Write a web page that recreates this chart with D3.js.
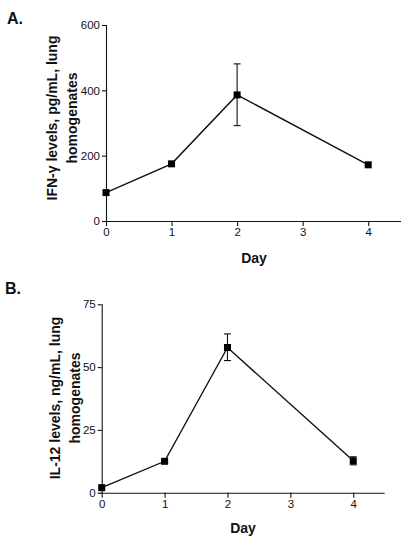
<!DOCTYPE html>
<html><head><meta charset="utf-8">
<script src="https://cdn.jsdelivr.net/npm/d3@7"></script>
<style>body{margin:0;background:#fff}svg{display:block}text{font-family:"Liberation Sans",Arial,Helvetica,sans-serif}</style>
</head><body>
<svg id="c" width="405" height="541"></svg>
<script>
const days = [0, 1, 2, 4];
const xTicks = [0, 1, 2, 3, 4];
// Panel A: IFN-γ (pg/mL)
const ifnMean = [87, 175, 386, 172];
const ifnErrHigh = [87, 175, 481, 172];
const ifnErrLow = [87, 175, 292, 172];
const ifnTicks = [0, 200, 400, 600];
// Panel B: IL-12 (ng/mL)
const il12Mean = [2, 12.5, 57.8, 12.7];
const il12ErrHigh = [2, 13, 63.2, 14.3];
const il12ErrLow = [2, 12, 52.6, 11.1];
const il12Ticks = [0, 25, 50, 75];

const svg = d3.select("#c");

function panel(cfg) {
  const x = d3.scaleLinear().domain([0, 4.5]).range([cfg.x0, cfg.x1]);
  const y = d3.scaleLinear().domain([0, cfg.ymax]).range([cfg.y0, cfg.y1]);
  const g = svg.append("g");

  const xa = g.append("g").attr("transform", `translate(0,${cfg.y0})`)
    .call(d3.axisBottom(x).tickValues(xTicks).tickFormat(d3.format("d")).tickSizeInner(5).tickSizeOuter(0).tickPadding(2));
  const ya = g.append("g").attr("transform", `translate(${cfg.x0},0)`)
    .call(d3.axisLeft(y).tickValues(cfg.ticks).tickSizeInner(4).tickSizeOuter(0).tickPadding(2));
  [xa, ya].forEach(a => {
    a.selectAll("path,line").attr("stroke", "#111").attr("stroke-width", 1.1);
    a.selectAll("text").attr("fill", "#111").style("font-size", "11.5px");
  });
  ya.select(".domain").attr("d", `M0.5,${cfg.y0}V${cfg.y1}`);
  xa.select(".domain").attr("d", `M${cfg.x0 - 2},0.5H${cfg.x1}`);

  const pts = days.map((d, i) => ({d, m: cfg.mean[i], hi: cfg.hi[i], lo: cfg.lo[i]}));

  pts.filter(p => p.hi - p.lo > 0).forEach(p => {
    const cx = x(p.d);
    g.append("line").attr("x1", cx).attr("x2", cx).attr("y1", y(p.hi)).attr("y2", y(p.lo)).attr("stroke", "#111").attr("stroke-width", 1.1);
    [p.hi, p.lo].forEach(v => g.append("line").attr("x1", cx - 3.5).attr("x2", cx + 3.5).attr("y1", y(v)).attr("y2", y(v)).attr("stroke", "#111").attr("stroke-width", 1.1));
  });

  g.append("path").datum(pts)
    .attr("d", d3.line().x(p => x(p.d)).y(p => y(p.m)))
    .attr("fill", "none").attr("stroke", "#111").attr("stroke-width", 1.4);

  g.selectAll("rect.m").data(pts).join("rect").attr("class", "m")
    .attr("x", p => x(p.d) - 3.5).attr("y", p => y(p.m) - 3.5)
    .attr("width", 7).attr("height", 7).attr("fill", "#000");

  g.append("text").attr("x", cfg.letterX).attr("y", cfg.letterY).text(cfg.letter)
    .style("font-size", "16px").style("font-weight", "bold").attr("fill", "#111");

  g.append("text").attr("x", cfg.dayX).attr("y", cfg.dayY).attr("text-anchor", "middle").text("Day")
    .style("font-size", "14px").style("font-weight", "bold").attr("fill", "#111");

  const lab = g.append("text").attr("transform", `translate(${cfg.labX},${cfg.labY}) rotate(-90)`)
    .attr("text-anchor", "middle").style("font-size", "14px").style("font-weight", "bold").attr("fill", "#111");
  lab.append("tspan").attr("x", 0).attr("dy", 0).text(cfg.lab1);
  lab.append("tspan").attr("x", 0).attr("dy", 20).text(cfg.lab2);
}

panel({x0: 106, x1: 401, y0: 221, y1: 25, ymax: 600, ticks: ifnTicks,
  mean: ifnMean, hi: ifnErrHigh, lo: ifnErrLow,
  letter: "A.", letterX: 7, letterY: 24, dayX: 254, dayY: 263,
  labX: 57, labY: 118, lab1: "IFN-\u03b3 levels, pg/mL, lung", lab2: "homogenates"});

panel({x0: 101.7, x1: 384.7, y0: 492.7, y1: 304.3, ymax: 75, ticks: il12Ticks,
  mean: il12Mean, hi: il12ErrHigh, lo: il12ErrLow,
  letter: "B.", letterX: 5, letterY: 294, dayX: 243, dayY: 533,
  labX: 60, labY: 398, lab1: "IL-12 levels, ng/mL, lung", lab2: "homogenates"});
</script>
</body></html>
